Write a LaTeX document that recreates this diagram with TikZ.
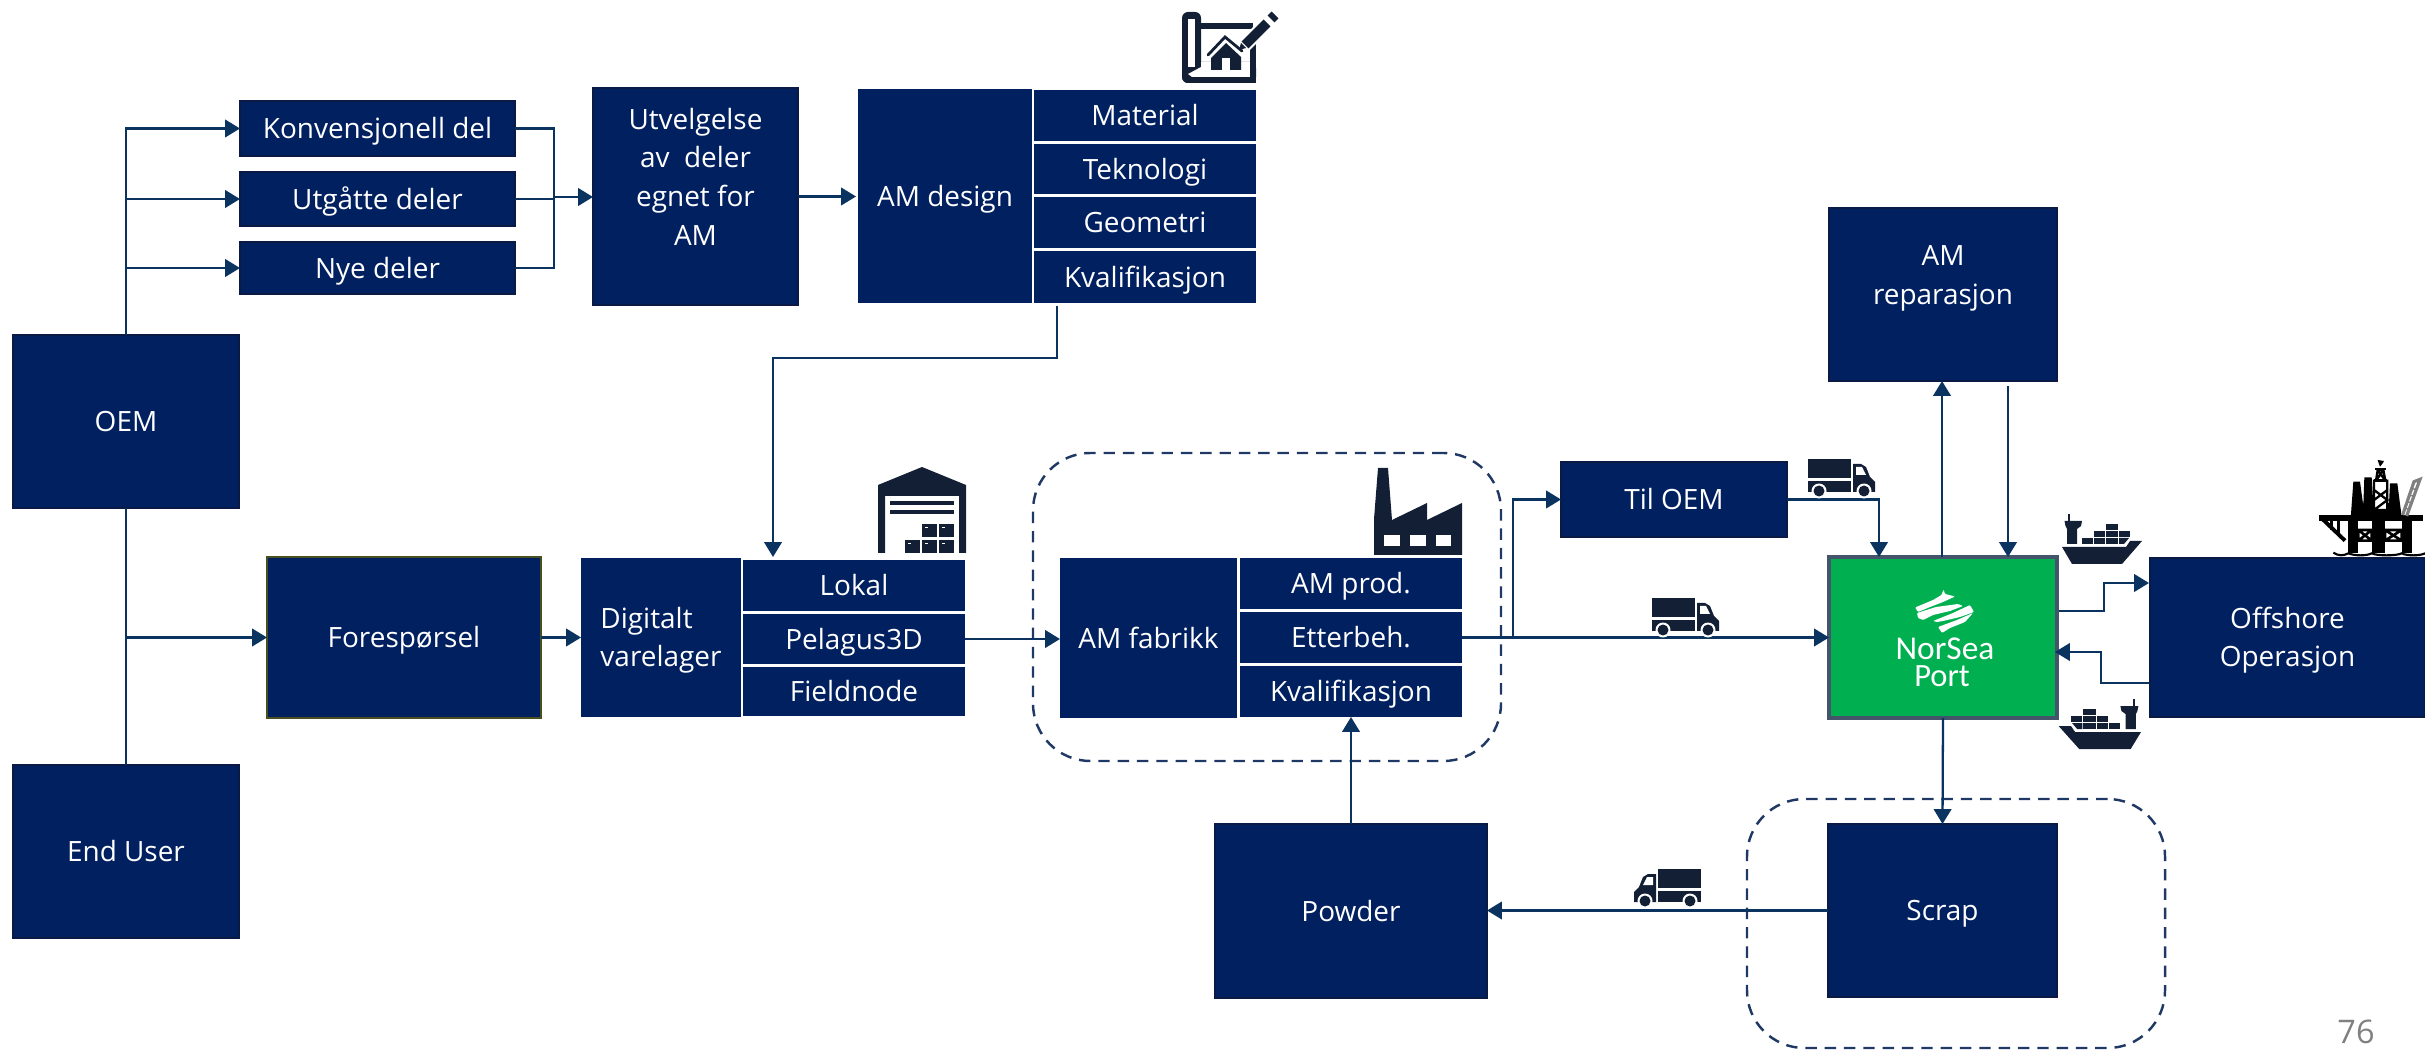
\documentclass[tikz,border=0pt]{standalone}
\usepackage{fontspec}
\setmainfont{Open Sans}
\newfontfamily\logofont{Carlito}
\usetikzlibrary{arrows.meta,calc}
\definecolor{navy}{HTML}{002060}
\definecolor{navyedge}{HTML}{0A1A45}
\definecolor{conn}{HTML}{0B3360}
\definecolor{icon}{HTML}{131F35}
\definecolor{dash}{HTML}{1F3864}
\definecolor{nsgreen}{HTML}{00B050}
\definecolor{nsedge}{HTML}{44546A}
\definecolor{olive}{HTML}{4A4F20}
\tikzset{
  blockbox/.style={draw=navyedge,line width=1.5pt,fill=navy,text=white},
  cellbox/.style={fill=navy,text=white},
  offerbox/.style={blockbox,draw=olive},
  portbox/.style={draw=nsedge,line width=2pt,fill=nsgreen},
  groupbox/.style={draw=dash,line width=1.4pt,dash pattern=on 6.5pt off 4.5pt,rounded corners=1.15cm},
  link/.style={draw=conn,line width=1.3pt},
  arrowlink/.style={link,-{Triangle[length=8.5pt,width=10pt]}},
  pics/truck/.style={code={
    \fill[icon] (0,0) rectangle (43,19);
    \fill[icon] (0,22) rectangle (43,33);
    \fill[icon] (45,5) -- (53,5) -- (58,8) -- (62,18) -- (67,23) -- (67,33) -- (45,33) -- cycle;
    \fill[white] (48,8) -- (54,8) -- (58,16) -- (48,16) -- cycle;
    \fill[white] (11,32) circle[radius=0.15cm];
    \fill[white] (56,32) circle[radius=0.15cm];
    \fill[icon] (11,32) circle[radius=0.11cm];
    \fill[icon] (56,32) circle[radius=0.11cm];
  }},
  pics/ship/.style={code={
    \fill[icon] (0,34) -- (64,34) -- (68,28) -- (80,28) -- (60,51) -- (10,51) -- cycle;
    \fill[icon] (6,1) rectangle (8,9);
    \fill[icon] (2.5,8) -- (20,8) -- (19,13) -- (15,16) -- (15,31) -- (5,31) -- (5,16) -- (3.5,13) -- cycle;
    \fill[icon] (44,11) rectangle (56,17);
    \fill[icon] (32,18) rectangle (43,24);
    \fill[icon] (44,18) rectangle (56,24);
    \fill[icon] (57,18) rectangle (68,24);
    \fill[icon] (20,25) rectangle (31,31);
    \fill[icon] (32,25) rectangle (43,31);
    \fill[icon] (44,25) rectangle (56,31);
    \fill[icon] (57,25) -- (67,25) -- (62,31) -- (57,31) -- cycle;
  }},
  pics/warehouse/.style={code={
    \fill[icon] (0,18) -- (44,0) -- (88,18) -- (88,86) -- (81,86) -- (81,29) -- (7,29) -- (7,86) -- (0,86) -- cycle;
    \fill[icon] (12,34) rectangle (76,38);
    \fill[icon] (12,43) rectangle (76,47);
    \foreach \bxa/\bya in {44/57,61/57,27/73,44/73,61/73}{
      \fill[icon] (\bxa,\bya) rectangle ++(15,13.5);
      \fill[white] (\bxa+3,\bya+3) rectangle ++(3,1.5);
    }
  }},
  pics/factory/.style={code={
    \fill[icon] (4,0) -- (14,0) -- (18,52) -- (53,35) -- (53,52) -- (88,35) -- (88,87) -- (0,87) -- (0,51) -- cycle;
    \fill[white] (10,67) rectangle (26,78);
    \fill[white] (36,67) rectangle (52,78);
    \fill[white] (62,67) rectangle (77,78);
  }},
  pics/blueprint/.style={code={
    \fill[icon,rounded corners=0.12cm] (0,0) rectangle (19,71);
    \fill[icon,rounded corners=0.12cm] (0,50) rectangle (74,71);
    \fill[white] (6,7) rectangle (13,55);
    \fill[white] (19,50) rectangle (68,65);
    \fill[white] (6,62) -- (19,55) -- (19,65) -- (10,65) -- cycle;
    \fill[icon] (19,11) rectangle (71,17);
    \fill[icon] (68,31) rectangle (74,71);
    \draw[icon,line width=1.6pt,line cap=round] (26,43) -- (43,25) -- (60,39);
    \fill[icon] (29,46) -- (44,31) -- (59,45) -- (59,58) -- (29,58) -- cycle;
    \fill[white] (40,46) rectangle (48,58);
    \draw[white,line width=8pt] (61,35) -- (88,8);
    \draw[icon,line width=5.5pt] (63,33) -- (85,11);
    \draw[icon,line width=5.5pt] (89,7) -- (93,3);
    \fill[icon] (57,38) -- (59,31) -- (64,36) -- cycle;
  }},
  pics/rig/.style={code={
    \begin{scope}[x=0.00667cm,y=-0.00667cm]
    \fill[black] (28,196) rectangle (340,212);
    \draw[black,line width=2.2pt] (35,205) -- (105,272);
    \draw[black,line width=1.4pt] (65,212) -- (65,240) (85,212) -- (85,255);
    \fill[black] (125,160) rectangle (270,205);
    \fill[black] (130,95) -- (150,95) -- (165,205) -- (122,205) -- cycle;
    \fill[black] (163,82) -- (185,82) -- (190,165) -- (160,165) -- cycle;
    \fill[black] (240,100) -- (262,100) -- (275,200) -- (235,200) -- cycle;
    \fill[white] (194,92) rectangle (230,178);
    \draw[black,line width=1.3pt] (192,92) rectangle (232,180) (192,120) -- (232,150) -- (192,180) (192,150) -- (232,120);
    \draw[black,line width=1.3pt] (198,92) -- (203,60) -- (220,60) -- (226,92) (203,60) -- (226,92) (220,60) -- (198,92);
    \fill[black] (192,88) rectangle (232,96);
    \fill[black] (195,54) rectangle (228,60);
    \fill[black] (203,30) -- (222,33) -- (218,40) -- (210,50) -- (206,40) -- cycle;
    \fill[black] (115,212) rectangle (145,310);
    \fill[black] (185,212) rectangle (225,310);
    \fill[black] (275,212) rectangle (305,310);
    \draw[black,line width=1.5pt] (145,240) rectangle (185,272) (145,240) -- (185,272) (145,272) -- (185,240);
    \draw[black,line width=1.5pt] (225,240) rectangle (275,272) (225,240) -- (275,272) (225,272) -- (275,240);
    \draw[gray,line width=1.8pt] (278,195) -- (312,95) -- (330,88) -- (290,198);
    \draw[gray,line width=0.8pt] (284,175) -- (298,178) (290,155) -- (304,158) (296,135) -- (310,138) (302,115) -- (316,118);
    \draw[black,line width=1.2pt] (70,308) .. controls (85,318) and (100,318) .. (115,310) .. controls (135,318) and (170,318) .. (185,310) .. controls (200,318) and (260,318) .. (275,310) .. controls (290,318) and (330,318) .. (345,310);
    \end{scope}
  }},
  pics/seamark/.style={code={
    \fill[white,rounded corners=0.02cm] (15,27.5) -- (33,20) -- (41.5,15) -- (43.5,9.5) -- (45,14) -- (55,16.5) -- (43,22) -- (30,27) -- (18,32) -- cycle;
    \fill[white,rounded corners=0.02cm] (17,33) -- (36,27) -- (58,24) -- (63,26) -- (50,31) -- (33,35) -- (23,40) -- (18,38) -- cycle;
    \fill[white,rounded corners=0.02cm] (33,41) -- (53,33) -- (70,25) -- (74,32) -- (60,37) -- (43,41) -- (37,42) -- cycle;
    \fill[white,rounded corners=0.02cm] (38,47) -- (57,40) -- (73,33) -- (65,42) -- (50,48) -- (42,53) -- cycle;
  }}
}
\newcommand{\topfix}{\rule{0pt}{1em}}
\newcommand{\botfix}{\rule[-0.28em]{0pt}{0.28em}}
\newcommand{\placebox}[7]{%
  \pgfmathsetmacro{\cxa}{(#3+#5)/2}%
  \pgfmathsetmacro{\cya}{(#4+#6)/2}%
  \node[#1,inner sep=0pt,outer sep=0pt,align=center,minimum width={(#5-#3)*0.02cm},minimum height={(#6-#4)*0.02cm}] (#2) at (\cxa,\cya) {\topfix#7\botfix};%
}
\begin{document}
\begin{tikzpicture}[x=0.02cm,y=-0.02cm,font=\fontsize{15.9}{22}\selectfont]
\useasboundingbox (0,0) rectangle (2425,1050);
% dashed groups
\placebox{groupbox}{amgroup}{1033}{453}{1501}{761}{}
\placebox{groupbox}{scrapgroup}{1747}{799}{2165}{1048}{}
% boxes
\placebox{blockbox}{oem}{13}{335}{239}{508}{OEM}
\placebox{blockbox}{enduser}{13}{765}{239}{938}{End User}
\placebox{blockbox}{konv}{240}{101}{515}{156}{Konvensjonell del}
\placebox{blockbox}{utg}{240}{172}{515}{226}{Utgåtte deler}
\placebox{blockbox}{nye}{240}{242}{515}{294}{Nye deler}
\placebox{blockbox}{utv}{593}{88}{798}{305}{Utvelgelse\\av\ \ deler\\egnet for\\AM\\\mbox{}}
\placebox{cellbox}{amd}{858}{89}{1032}{303}{AM design}
\placebox{cellbox}{mat}{1034}{90}{1256}{141}{Material}
\placebox{cellbox}{tek}{1034}{144}{1256}{194}{Teknologi}
\placebox{cellbox}{geo}{1034}{197}{1256}{248}{Geometri}
\placebox{cellbox}{kvd}{1034}{251}{1256}{303}{Kvalifikasjon}
\placebox{offerbox}{fore}{267}{557}{541}{718}{Forespørsel}
\node[cellbox,inner sep=0pt,outer sep=0pt,align=left,minimum width=3.2cm,minimum height=3.18cm] (dig) at (661,637.5) {\topfix Digitalt\\varelager\botfix};
\placebox{cellbox}{lok}{743}{560}{965}{611}{Lokal}
\placebox{cellbox}{pel}{743}{614}{965}{664}{Pelagus3D}
\placebox{cellbox}{fie}{743}{667}{965}{716}{Fieldnode}
\placebox{cellbox}{amf}{1060}{558}{1237}{718}{AM fabrikk}
\placebox{cellbox}{apr}{1240}{558}{1462}{609}{AM prod.}
\placebox{cellbox}{ett}{1240}{612}{1462}{663}{Etterbeh.}
\placebox{cellbox}{kvf}{1240}{666}{1462}{717}{Kvalifikasjon}
\placebox{blockbox}{til}{1561}{462}{1787}{537}{Til OEM}
\placebox{blockbox}{rep}{1829}{208}{2057}{381}{AM\\reparasjon\\\mbox{}}
\placebox{portbox}{port}{1829}{557}{2057}{718}{}
\placebox{blockbox}{off}{2150}{558}{2425}{717}{Offshore\\Operasjon}
\placebox{blockbox}{pow}{1215}{824}{1487}{998}{Powder}
\placebox{blockbox}{scr}{1828}{824}{2057}{997}{Scrap}
% logo
\pic at (1900,580) {seamark};
\node[text=white,inner sep=0pt,anchor=base,font=\logofont\fontsize{19}{19}\selectfont] (lognor) at (1945,660) {NorSea};
\node[text=white,inner sep=0pt,anchor=base,font=\logofont\fontsize{18.5}{18.5}\selectfont] (logport) at (1942,686) {Port};
% page number
\node[text=gray,inner sep=0pt,anchor=base,font=\fontsize{18.5}{19}\selectfont] (pageno) at (2356,1043) {76};
% helper coordinates
\coordinate (joinpt) at (554,197);
\coordinate (kvstart) at (1057,306);
\coordinate (kvbend) at (773,358);
\coordinate (loktop) at (773,557);
\coordinate (branch) at (1513,637.5);
\coordinate (portin) at (1879,557);
\coordinate (repup) at (1942,557);
\coordinate (repout) at (2008,386);
\coordinate (repin) at (2008,557);
\coordinate (offstart) at (2059,611);
\coordinate (offbend) at (2104,583);
\coordinate (offend) at (2149,583);
\coordinate (backstart) at (2149,683);
\coordinate (backbend) at (2101,652);
\coordinate (backend) at (2055,652);
% connectors
\draw[arrowlink] (oem.north) |- (konv.west);
\draw[arrowlink] (oem.north) |- (utg.west);
\draw[arrowlink] (oem.north) |- (nye.west);
\draw[link] (oem.south) -- (enduser.north);
\draw[arrowlink] (oem.south) |- (fore.west);
\draw[link] (konv.east) -| (joinpt);
\draw[link] (utg.east) -| (joinpt);
\draw[link] (nye.east) -| (joinpt);
\draw[arrowlink] (joinpt) -- (joinpt -| utv.west);
\draw[arrowlink] (utv.east) -- ([xshift=-0.04cm]utv.east -| amd.west);
\draw[arrowlink] (kvstart) |- (kvbend) -- (loktop);
\draw[arrowlink] (fore.east) -- (fore.east -| dig.west);
\draw[arrowlink] (pel.east) -- (pel.east -| amf.west);
\draw[arrowlink] (pow.north) -- (kvf.south);
\draw[arrowlink] (ett.east) -- (port.west);
\draw[arrowlink] (branch) |- (til.west);
\draw[arrowlink] (til.east) -| (portin);
\draw[arrowlink] (repup) -- (repup |- rep.south);
\draw[arrowlink] (repout) -- (repin);
\draw[arrowlink] (port.south) -- (scr.north);
\draw[arrowlink] (scr.west) -- (scr.west -| pow.east);
\draw[arrowlink] (offstart) -| (offbend) -- (offend);
\draw[arrowlink] (backstart) -| (backbend) -- (backend);
% icons
\pic at (1182,12) {blueprint};
\pic at (878,467) {warehouse};
\pic at (1374,468) {factory};
\pic at (1808,459) {truck};
\pic at (1652,598) {truck};
\pic[xscale=-1] at (1701,869) {truck};
\pic at (2062,513) {ship};
\pic[xscale=-1.03] at (2141,698) {ship};
\pic at (2310,450) {rig};
\end{tikzpicture}
\end{document}
